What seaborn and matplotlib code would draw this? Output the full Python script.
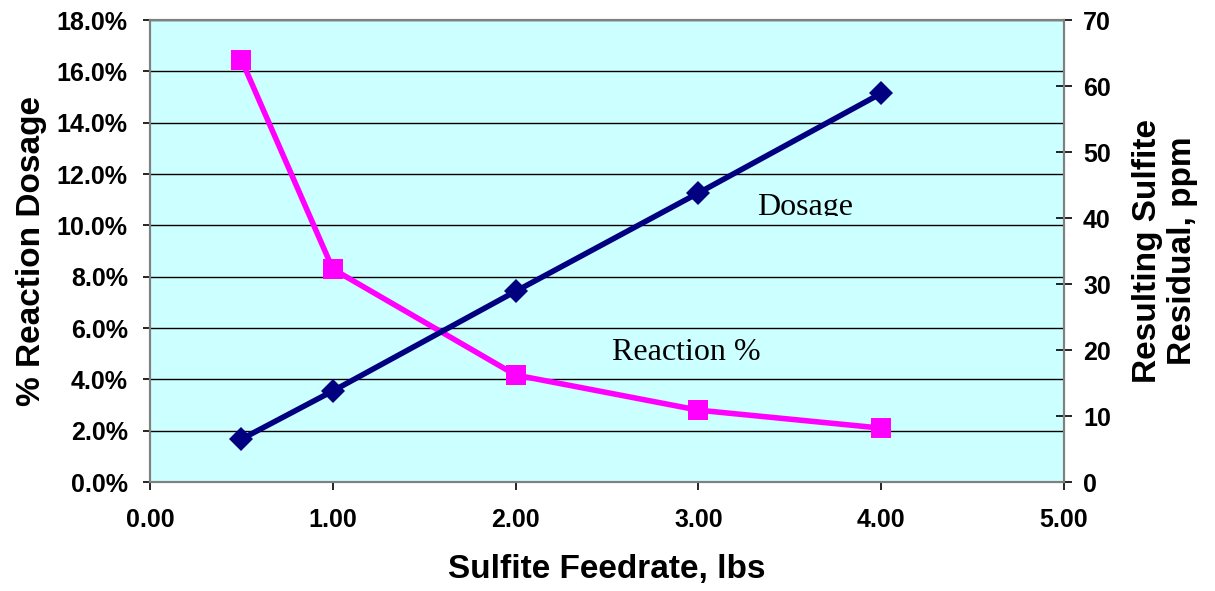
import matplotlib
matplotlib.use("Agg")
import matplotlib.pyplot as plt
import matplotlib.ticker as mtick
from matplotlib.transforms import Bbox
import seaborn as sns
import pandas as pd

feedrate = [0.5, 1.0, 2.0, 3.0, 4.0]
reaction_pct = [16.45, 8.3, 4.17, 2.8, 2.1]
dosage_ppm = [6.5, 13.8, 28.9, 43.8, 58.9]

df = pd.DataFrame({"feed": feedrate, "reaction": reaction_pct, "dosage": dosage_ppm})

plt.rcParams["font.family"] = ["Liberation Sans", "DejaVu Sans"]
plt.rcParams["font.weight"] = "bold"

fig = plt.figure(figsize=(12.15, 5.91), dpi=100)
ax = fig.add_axes([0.1235, 0.1844, 0.7522, 0.7816])
ax.set_facecolor("#CCFFFF")

sns.lineplot(data=df, x="feed", y="reaction", ax=ax, color="#FF00FF", lw=4,
             marker="s", markersize=14, markeredgewidth=0)
ax2 = ax.twinx()
sns.lineplot(data=df, x="feed", y="dosage", ax=ax2, color="#000080", lw=4,
             marker="D", markersize=12, markeredgewidth=0)

ax.set_xlim(0, 5)
ax.set_ylim(0, 18)
ax2.set_ylim(0, 70)
ax.set_xticks(range(6))
ax.xaxis.set_major_formatter(mtick.FormatStrFormatter("%.2f"))
ax.set_yticks(range(0, 19, 2))
ax.yaxis.set_major_formatter(mtick.FormatStrFormatter("%.1f%%"))
ax2.set_yticks(range(0, 71, 10))

ax.grid(axis="y", color="black", lw=1)
ax.set_axisbelow(True)

for a in (ax, ax2):
    for s in a.spines.values():
        s.set_color("#808080")
        s.set_linewidth(1.5)
    a.tick_params(labelsize=18, width=1.2, length=5, colors="black")
ax.tick_params(axis="y", direction="out", pad=11)
ax2.tick_params(axis="y", direction="inout", length=11.5, pad=8)
ax.tick_params(axis="x", direction="out", length=6, pad=13)

ax.set_xlabel("Sulfite Feedrate, lbs", fontsize=24, fontweight="bold", va="center")
ax.xaxis.set_label_coords(0.5, -0.19)
ax.set_ylabel("% Reaction Dosage", fontsize=24, fontweight="bold", va="center")
ax.yaxis.set_label_coords(-0.13, 0.5)
ax2.set_ylabel("Resulting Sulfite\nResidual, ppm", fontsize=24, fontweight="bold",
               rotation=90, va="center", linespacing=1.15)
ax2.yaxis.set_label_coords(1.1105, 0.5)

t = ax.text(3.32, 10.71, "Dosage", fontsize=23, family="Liberation Serif",
            fontweight="normal", ha="left", va="center")
t.set_clip_box(Bbox.from_extents(0, 591 - 216, 1215, 591))
t.set_clip_on(True)
ax.text(2.53, 5.06, "Reaction %", fontsize=23, family="Liberation Serif",
        fontweight="normal", ha="left", va="center")

fig.savefig("out.png", dpi=100)
